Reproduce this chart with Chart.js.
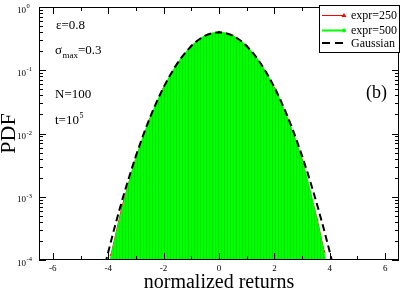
<!DOCTYPE html>
<html>
<head>
<meta charset="utf-8">
<script src="https://cdn.jsdelivr.net/npm/chart.js@4.4.0/dist/chart.umd.min.js"></script>
<style>
  html, body { margin: 0; padding: 0; background: #fff; }
  canvas { display: block; }
</style>
</head>
<body>
<canvas id="pdfChart" width="403" height="290"></canvas>
<script>
const serif = '"Liberation Serif", "Times New Roman", serif';

const xTicks = [-6, -4, -2, 0, 2, 4, 6];
const yDecades = [0, -1, -2, -3, -4];

// expr=500 (green, filled)
const x500 = [-3.93, -3.8, -3.6, -3.4, -3.2, -3.0, -2.8, -2.6, -2.4, -2.2, -2.0, -1.8, -1.6, -1.4, -1.2, -1.0,
  -0.8, -0.6, -0.4, -0.2, 0, 0.2, 0.4, 0.6, 0.8, 1.0, 1.2, 1.4, 1.6, 1.8, 2.0, 2.2, 2.4, 2.6, 2.8, 3.0,
  3.2, 3.4, 3.6, 3.8, 3.85];
const y500 = [1.0e-4, 1.8e-4, 4.2e-4, 9.5e-4, 2.07e-3, 4.1e-3, 7.5e-3, 1.31e-2, 2.18e-2, 3.47e-2, 0.053, 0.078, 0.110, 0.149, 0.194, 0.242,
  0.290, 0.334, 0.369, 0.393, 0.401, 0.393, 0.369, 0.333, 0.290, 0.242, 0.193, 0.148, 0.109, 0.077, 0.052, 0.034, 0.0212, 0.0126, 0.0071, 3.85e-3,
  1.83e-3, 7.9e-4, 3.3e-4, 1.27e-4, 1.0e-4];

// expr=250 (red)
const x250 = [-3.9, -3.5, -3.0, -2.5, -2.0, -1.5, -1.0, -0.5, 0, 0.5, 1.0, 1.5, 2.0, 2.5, 3.0, 3.55, 3.8];
const y250 = [1.2e-4, 7.0e-4, 4.1e-3, 1.68e-2, 0.052, 0.128, 0.241, 0.351, 0.400, 0.350, 0.241, 0.127, 0.052, 0.0163, 3.8e-3, 4.3e-4, 1.35e-4];

// Gaussian
const xGauss = [-4.2, -4.0, -3.8, -3.6, -3.4, -3.2, -3.0, -2.8, -2.6, -2.4, -2.2, -2.0, -1.8, -1.6, -1.4, -1.2, -1.0, -0.8, -0.6, -0.4, -0.2,
  0, 0.2, 0.4, 0.6, 0.8, 1.0, 1.2, 1.4, 1.6, 1.8, 2.0, 2.2, 2.4, 2.6, 2.8, 3.0, 3.2, 3.4, 3.6, 3.8, 4.0, 4.2];
const yGauss = [5.89e-5, 1.34e-4, 2.92e-4, 6.12e-4, 1.23e-3, 2.38e-3, 4.43e-3, 7.92e-3, 1.36e-2, 2.24e-2, 3.55e-2, 0.054, 0.079, 0.111, 0.150, 0.194, 0.242, 0.290, 0.333, 0.368, 0.391,
  0.399, 0.391, 0.368, 0.333, 0.290, 0.242, 0.194, 0.150, 0.111, 0.079, 0.054, 3.55e-2, 2.24e-2, 1.36e-2, 7.92e-3, 4.43e-3, 2.38e-3, 1.23e-3, 6.12e-4, 2.92e-4, 1.34e-4, 5.89e-5];

const pts = (xs, ys) => xs.map((v, i) => ({ x: v, y: ys[i] }));

// striped green fill like the original histogram
function stripes() {
  const c = document.createElement('canvas');
  c.width = 3; c.height = 1;
  const g = c.getContext('2d');
  g.fillStyle = '#00ff00'; g.fillRect(0, 0, 3, 1);
  g.fillStyle = '#00e400'; g.fillRect(2, 0, 1, 1);
  return g.createPattern(c, 'repeat');
}

function text(ctx, s, x, y, size) {
  ctx.font = size + 'px ' + serif;
  ctx.fillText(s, x, y);
  return x + ctx.measureText(s).width;
}

const decorations = {
  id: 'decorations',
  afterDraw(chart) {
    const { ctx, chartArea: a, scales: { x, y } } = chart;
    ctx.save();
    ctx.strokeStyle = '#000';
    ctx.fillStyle = '#000';
    ctx.lineWidth = 1;
    ctx.strokeRect(a.left + 0.5, a.top + 0.5, a.right - a.left - 1, a.bottom - a.top - 1);

    // inward ticks on all four sides
    ctx.beginPath();
    for (let v = -6; v <= 6; v++) {
      const px = Math.round(x.getPixelForValue(v)) + 0.5;
      const len = v % 2 === 0 ? 7 : 4;
      ctx.moveTo(px, a.bottom); ctx.lineTo(px, a.bottom - len);
      ctx.moveTo(px, a.top); ctx.lineTo(px, a.top + len);
    }
    for (let e = -4; e <= 0; e++) {
      for (let m = 1; m <= 9; m++) {
        if (e === 0 && m > 1) break;
        const py = Math.round(y.getPixelForValue(m * Math.pow(10, e))) + 0.5;
        const len = m === 1 ? 7 : 4;
        ctx.moveTo(a.left, py); ctx.lineTo(a.left + len, py);
        ctx.moveTo(a.right, py); ctx.lineTo(a.right - len, py);
      }
    }
    ctx.stroke();

    // y tick labels 10^n
    ctx.textAlign = 'left';
    ctx.textBaseline = 'alphabetic';
    yDecades.forEach(e => {
      const py = y.getPixelForValue(Math.pow(10, e));
      const end = text(ctx, '10', 17, py + 5.5, 9);
      text(ctx, String(e), end + 0.5, py + 1, 6.5);
    });

    // parameters
    text(ctx, '\u03b5=0.8', 56, 29, 13);
    let cx = text(ctx, '\u03c3', 55, 54, 13);
    cx = text(ctx, 'max', cx + 0.5, 58, 9);
    text(ctx, '=0.3', cx, 54, 13);
    text(ctx, 'N=100', 55, 98, 13);
    cx = text(ctx, 't=10', 55, 124, 13);
    text(ctx, '5', cx + 0.5, 118, 8);
    text(ctx, '(b)', 366, 98, 18);

    // legend
    ctx.fillStyle = '#fff';
    ctx.fillRect(319, 5, 81, 48);
    ctx.strokeStyle = '#000';
    ctx.strokeRect(319.5, 5.5, 80, 47);
    ctx.lineWidth = 1;
    ctx.strokeStyle = '#ff0000';
    ctx.beginPath(); ctx.moveTo(322, 15.5); ctx.lineTo(344, 15.5); ctx.stroke();
    ctx.fillStyle = '#ff0000';
    ctx.beginPath(); ctx.moveTo(344, 13); ctx.lineTo(346.5, 17); ctx.lineTo(341.5, 17); ctx.closePath(); ctx.fill();
    ctx.lineWidth = 2;
    ctx.strokeStyle = '#00ff00';
    ctx.beginPath(); ctx.moveTo(322, 30.5); ctx.lineTo(344, 30.5); ctx.stroke();
    ctx.fillStyle = '#00ff00';
    ctx.beginPath(); ctx.arc(344, 30.5, 2, 0, Math.PI * 2); ctx.fill();
    ctx.strokeStyle = '#000';
    ctx.setLineDash([8, 5]);
    ctx.beginPath(); ctx.moveTo(322, 43); ctx.lineTo(344, 43); ctx.stroke();
    ctx.setLineDash([]);
    ctx.fillStyle = '#000';
    ctx.textBaseline = 'middle';
    text(ctx, 'expr=250', 351, 15.5, 12);
    text(ctx, 'expr=500', 351, 30.5, 12);
    text(ctx, 'Gaussian', 351, 44, 12);
    ctx.restore();
  }
};

const ctx = document.getElementById('pdfChart').getContext('2d');
new Chart(ctx, {
  type: 'line',
  data: {
    datasets: [
      {
        label: 'Gaussian', data: pts(xGauss, yGauss), order: 0,
        borderColor: '#000', borderWidth: 2, borderDash: [7, 4],
        pointRadius: 0, fill: false, clip: 0
      },
      {
        label: 'expr=500', data: pts(x500, y500), order: 1,
        borderColor: '#00ff00', borderWidth: 1, backgroundColor: stripes(),
        pointRadius: 0, fill: 'start'
      },
      {
        label: 'expr=250', data: pts(x250, y250), order: 2,
        borderColor: '#ff0000', borderWidth: 1, backgroundColor: '#ff0000',
        pointStyle: 'triangle', pointRadius: 1.8, pointBorderWidth: 0, fill: false
      }
    ]
  },
  options: {
    responsive: false,
    animation: false,
    devicePixelRatio: 1,
    layout: { padding: { top: 7, right: 1, left: 0, bottom: 0 } },
    plugins: { legend: { display: false }, tooltip: { enabled: false } },
    scales: {
      x: {
        type: 'linear', min: -6.5, max: 6.5,
        afterBuildTicks: s => { s.ticks = xTicks.map(v => ({ value: v })); },
        afterFit: s => { s.height = 30; },
        grid: { display: false, drawTicks: false }, border: { display: false },
        ticks: { color: '#000', padding: 3, maxRotation: 0, font: { family: serif, size: 9 } },
        title: {
          display: true, text: 'normalized returns', color: '#000',
          font: { family: serif, size: 20, lineHeight: 1 }, padding: { top: 0, bottom: -2.5 }
        }
      },
      y: {
        type: 'logarithmic', min: 1e-4, max: 1,
        afterFit: s => { s.width = 39; },
        grid: { display: false, drawTicks: false }, border: { display: false },
        ticks: { display: false },
        title: {
          display: true, text: 'PDF', color: '#000',
          font: { family: serif, size: 22, lineHeight: 1 }, padding: { top: -2, bottom: 0 }
        }
      }
    }
  },
  plugins: [decorations]
});
</script>
</body>
</html>
